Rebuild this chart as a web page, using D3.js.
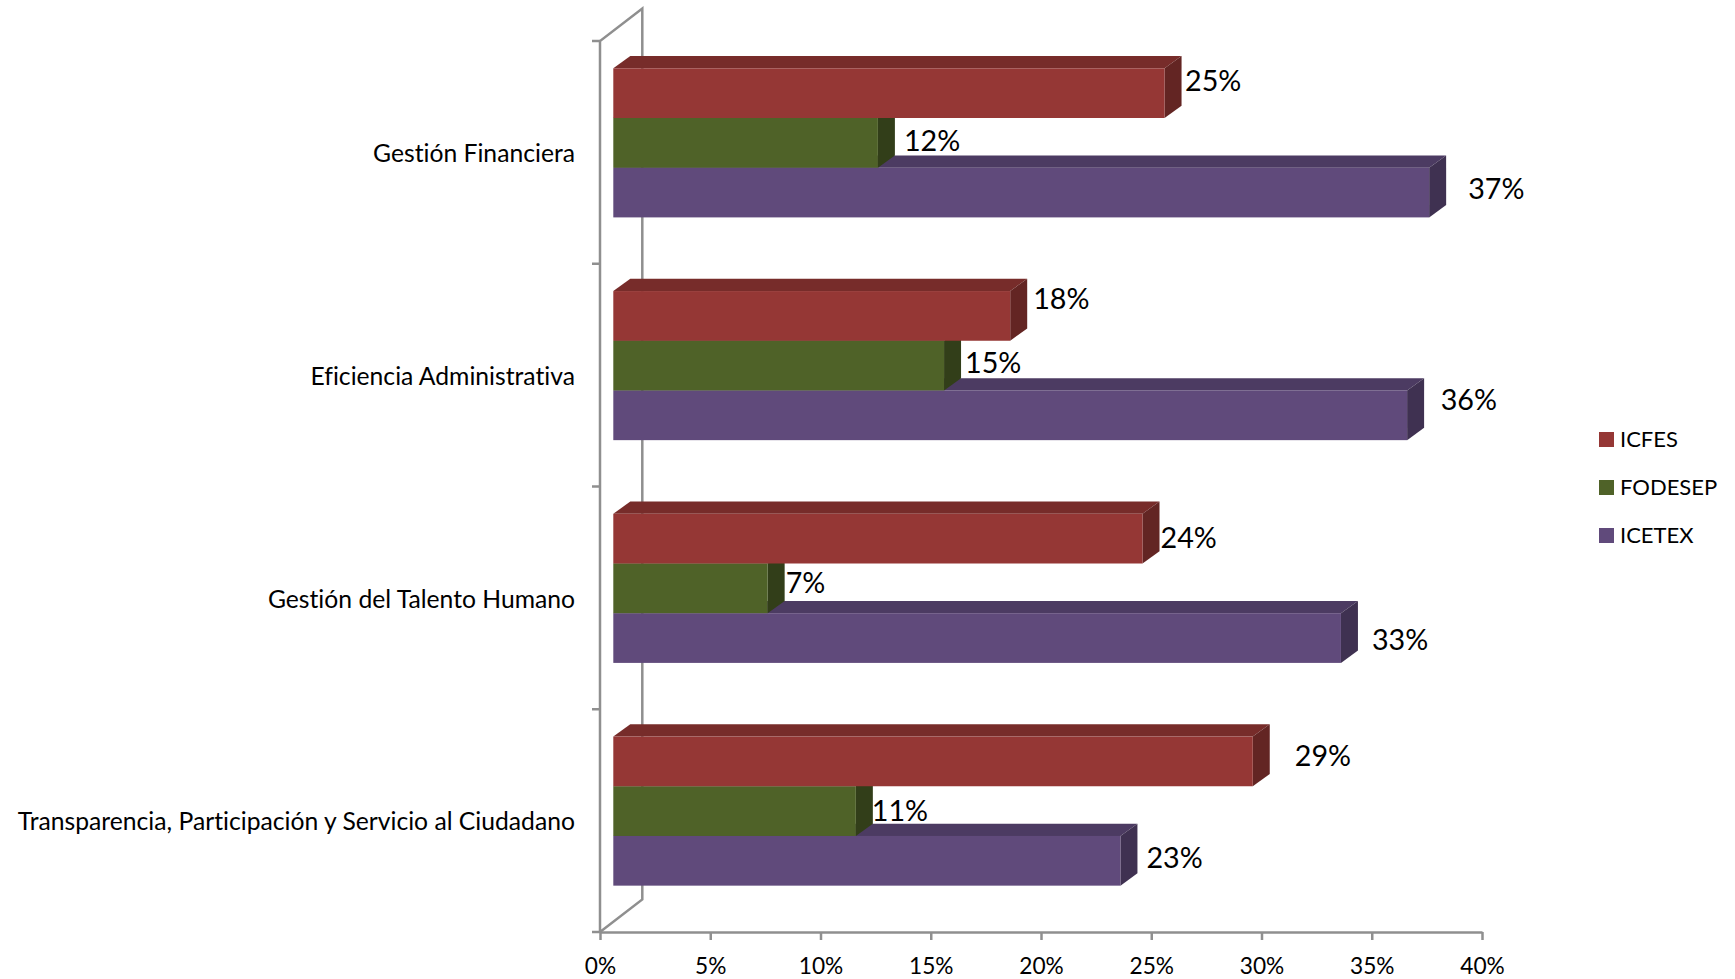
<!DOCTYPE html>
<html>
<head>
<meta charset="utf-8">
<title>Chart</title>
<script src="https://cdnjs.cloudflare.com/ajax/libs/d3/7.8.5/d3.min.js"></script>
<style>
html, body { margin: 0; padding: 0; background: #fff; }
svg { display: block; }
text { font-family: Lato, "Open Sans", sans-serif; fill: #000; font-variant-ligatures: none; }
</style>
</head>
<body>
<div id="graph"></div>
<script>
// values
var categories = ["Gestión Financiera", "Eficiencia Administrativa", "Gestión del Talento Humano", "Transparencia, Participación y Servicio al Ciudadano"];
var seriesNames = ["ICFES", "FODESEP", "ICETEX"];
var icfes = [25, 18, 24, 29];
var fodesep = [12, 15, 7, 11];
var icetex = [37, 36, 33, 23];
var xTicks = [0, 5, 10, 15, 20, 25, 30, 35, 40];

// hand placed data labels, the way they sit in the original (dx from bar end, y from bar middle)
var labelNudge = [
    [[20.5, -12], [26, -2], [39, -4]],
    [[23, -17], [21, -3], [33.6, -15]],
    [[18, -1], [18, -5], [31, 2]],
    [[42, -5], [16, 0], [26, -3]]
];

var w = 1735, h = 979;
var fronts = [icfes, fodesep, icetex];
var colors = [
    { front: "#953735", top: "#772c2a", side: "#632523" },
    { front: "#4f6228", top: "#3f4e20", side: "#323e19" },
    { front: "#604a7b", top: "#4c3b62", side: "#3f3151" }
];

var axisColor = "#8f8f8f";
var depthX = 17, depthY = 12.3;   // bar depth
var wallX = 42.3, wallY = 32.5;   // wall depth
var barOffset = 13.3;

var svg = d3.select("#graph").append("svg")
    .attr("width", w)
    .attr("height", h);

var x = d3.scaleLinear().domain([0, 40]).range([600, 1482]);
var y = d3.scaleBand().domain(categories).range([41, 932]);
var inner = d3.scaleBand().domain(d3.range(3)).range([27.3, 176.4]);

// walls
var walls = svg.append("g")
    .attr("fill", "none")
    .attr("stroke", axisColor)
    .attr("stroke-width", 2.5);
walls.append("path").attr("d", d3.line()([
    [x(0), y.range()[1]],
    [x(0) + wallX, y.range()[1] - wallY],
    [x(0) + wallX, y.range()[0] - wallY],
    [x(0), y.range()[0]],
    [x(0), y.range()[1]]
]));

// left ticks sit on the band edges
walls.selectAll("line")
    .data(categories.concat([null]))
    .enter()
    .append("line")
    .attr("x1", x(0) - 8)
    .attr("x2", x(0))
    .attr("y1", function (d, i) { return y.range()[0] + i * y.step(); })
    .attr("y2", function (d, i) { return y.range()[0] + i * y.step(); });

var xAxis = svg.append("g")
    .attr("transform", "translate(0," + y.range()[1] + ")")
    .call(d3.axisBottom(x)
        .tickValues(xTicks)
        .tickSize(8)
        .tickSizeOuter(0)
        .tickPadding(18)
        .tickFormat(function (d) { return d + "%"; }));
xAxis.selectAll("line, path").attr("stroke", axisColor).attr("stroke-width", 2.5);
xAxis.selectAll("text").attr("font-size", 22.7).attr("font-family", "Lato").attr("fill", "#000");

// bars, back to front so the front series hides the top of the one behind
categories.forEach(function (cat, c) {
    var g = svg.append("g").attr("transform", "translate(0," + y(cat) + ")");
    [2, 1, 0].forEach(function (s) {
        var v = fronts[s][c];
        var x0 = x(0) + barOffset;
        var x1 = x(v) + barOffset;
        var y0 = inner(s);
        var y1 = y0 + inner.bandwidth();
        g.append("path")
            .attr("fill", colors[s].top)
            .attr("d", d3.line()([[x0, y0], [x0 + depthX, y0 - depthY], [x1 + depthX, y0 - depthY], [x1, y0]]));
        g.append("path")
            .attr("fill", colors[s].side)
            .attr("d", d3.line()([[x1, y0], [x1 + depthX, y0 - depthY], [x1 + depthX, y1 - depthY], [x1, y1]]));
        g.append("rect")
            .attr("x", x0)
            .attr("y", y0)
            .attr("width", x1 - x0)
            .attr("height", y1 - y0)
            .attr("fill", colors[s].front);
    });
    // category label
    g.append("text")
        .attr("x", 575)
        .attr("y", y.bandwidth() / 2 + 1)
        .attr("dy", "0.35em")
        .attr("text-anchor", "end")
        .attr("font-size", 24.7)
        .text(cat);
    // data labels
    [0, 1, 2].forEach(function (s) {
        var v = fronts[s][c];
        var n = labelNudge[c][s];
        g.append("text")
            .attr("x", x(v) + barOffset + n[0])
            .attr("y", inner(s) + inner.bandwidth() / 2 + n[1])
            .attr("dy", "0.35em")
            .attr("font-size", 28.7)
            .text(v + "%");
    });
});

// legend
var legend = svg.selectAll(".legend")
    .data(seriesNames)
    .enter()
    .append("g")
    .attr("class", "legend")
    .attr("transform", function (d, i) { return "translate(1599," + (432 + i * 48) + ")"; });
legend.append("rect")
    .attr("width", 15)
    .attr("height", 15)
    .attr("fill", function (d, i) { return colors[i].front; });
legend.append("text")
    .attr("x", 21)
    .attr("y", 7)
    .attr("dy", "0.35em")
    .attr("font-size", 22)
    .text(function (d) { return d; });
</script>
</body>
</html>
